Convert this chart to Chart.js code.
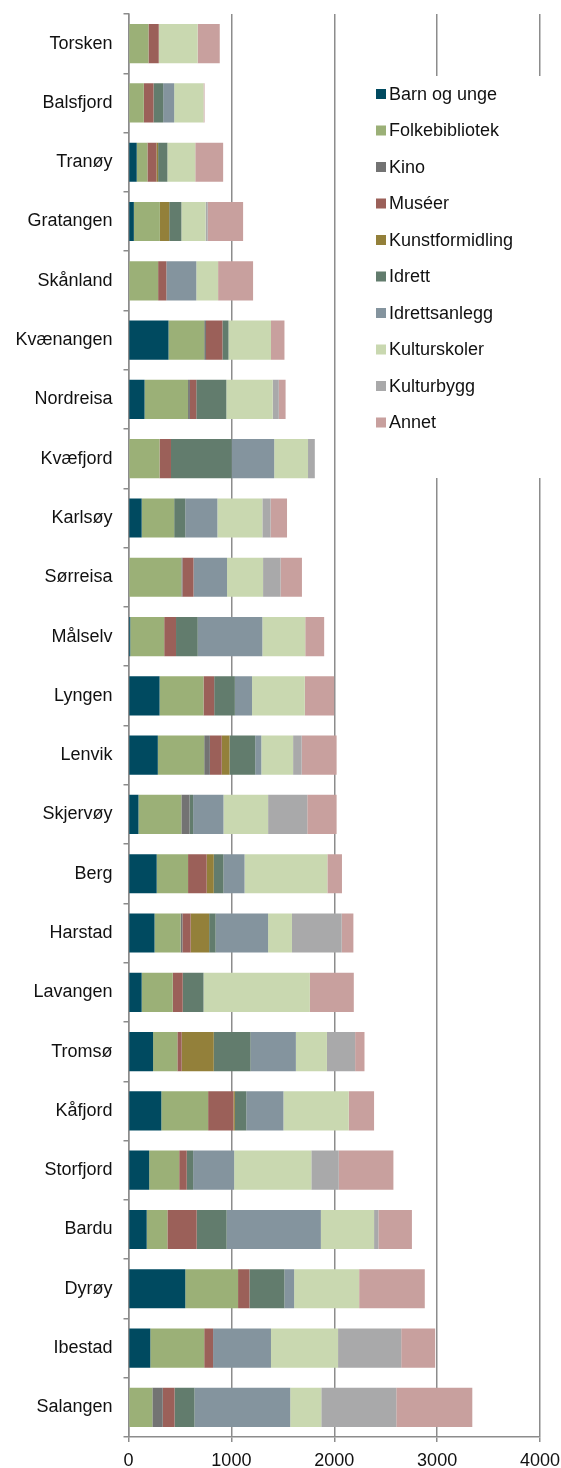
<!DOCTYPE html>
<html>
<head>
<meta charset="utf-8">
<script src="https://cdn.jsdelivr.net/npm/chart.js@4/dist/chart.umd.min.js"></script>
<style>
  html, body { margin: 0; padding: 0; background: #fff; }
  #wrap { width: 561px; height: 1468px; position: relative; }
</style>
</head>
<body>
<div id="wrap"><canvas id="grafico"></canvas></div>
<script>
// kommuner, ovenfra og ned
const kommuner = ["Torsken", "Balsfjord", "Tranøy", "Gratangen", "Skånland", "Kvænangen",
  "Nordreisa", "Kvæfjord", "Karlsøy", "Sørreisa", "Målselv", "Lyngen", "Lenvik", "Skjervøy",
  "Berg", "Harstad", "Lavangen", "Tromsø", "Kåfjord", "Storfjord", "Bardu", "Dyrøy",
  "Ibestad", "Salangen"];

const barnOgUnge      = [0, 0, 80, 52, 0, 389, 156, 0, 128, 0, 17, 302, 285, 97, 274, 253, 128, 239, 319, 201, 177, 552, 212, 0];
const folkebibliotek  = [194, 149, 104, 253, 288, 347, 423, 302, 316, 514, 330, 427, 451, 417, 305, 254, 302, 236, 455, 292, 201, 513, 524, 232];
const kino            = [0, 0, 0, 0, 0, 17, 18, 0, 0, 10, 0, 0, 55, 79, 0, 17, 0, 0, 0, 0, 0, 0, 0, 101];
const museer          = [100, 94, 87, 0, 80, 160, 62, 111, 0, 108, 115, 104, 115, 0, 181, 80, 97, 42, 246, 73, 285, 111, 86, 115];
const kunstformidling = [0, 0, 17, 91, 0, 0, 0, 0, 0, 0, 0, 0, 76, 0, 69, 180, 0, 312, 14, 0, 0, 0, 0, 0];
const idrett          = [0, 94, 90, 118, 0, 59, 292, 590, 108, 0, 211, 201, 250, 35, 94, 63, 202, 358, 111, 62, 291, 340, 0, 194];
const idrettsanlegg   = [0, 107, 0, 0, 291, 0, 0, 413, 312, 326, 628, 167, 59, 295, 205, 510, 0, 440, 361, 399, 916, 94, 563, 930];
const kulturskoler    = [378, 285, 271, 236, 212, 413, 451, 329, 437, 350, 417, 513, 309, 434, 805, 232, 1034, 302, 635, 750, 517, 632, 652, 302];
const kulturbygg      = [0, 0, 0, 20, 0, 0, 59, 66, 80, 170, 0, 0, 83, 381, 0, 483, 0, 274, 0, 267, 42, 0, 614, 729];
const annet           = [215, 10, 271, 344, 340, 131, 66, 0, 160, 208, 184, 285, 340, 285, 142, 114, 427, 91, 246, 531, 326, 638, 330, 739];

const xTicks = [0, 1000, 2000, 3000, 4000];

const serier = [
  ["Barn og unge", barnOgUnge, "#004a60"],
  ["Folkebibliotek", folkebibliotek, "#9bb077"],
  ["Kino", kino, "#737373"],
  ["Muséer", museer, "#9b6059"],
  ["Kunstformidling", kunstformidling, "#93803a"],
  ["Idrett", idrett, "#627c6d"],
  ["Idrettsanlegg", idrettsanlegg, "#84949e"],
  ["Kulturskoler", kulturskoler, "#c9d8b0"],
  ["Kulturbygg", kulturbygg, "#a9a9aa"],
  ["Annet", annet, "#c8a09e"]
];

const FONT = "'Liberation Sans', Arial, sans-serif";
const GRID = "#8c8c8c";

// egen legende med hvit bakgrunn (dekker rutenettet)
const legendePlugin = {
  id: "legende",
  afterDraw(chart) {
    const c = chart.ctx;
    c.save();
    c.fillStyle = "#fff";
    c.fillRect(345, 76, 216, 402);
    c.font = "18px " + FONT;
    c.textBaseline = "middle";
    chart.data.datasets.forEach((ds, i) => {
      const y = 94 + i * 36.5;
      c.fillStyle = ds.backgroundColor;
      c.fillRect(376, y - 5, 10, 10);
      c.fillStyle = "#111";
      c.fillText(ds.label, 389, y + 1);
    });
    c.restore();
  }
};

new Chart(document.getElementById("grafico"), {
  type: "bar",
  data: {
    labels: kommuner,
    datasets: serier.map(([navn, verdier, farge]) => ({
      label: navn,
      data: verdier,
      backgroundColor: farge,
      borderWidth: 0,
      barPercentage: 0.66,
      categoryPercentage: 1
    }))
  },
  options: {
    indexAxis: "y",
    responsive: true,
    maintainAspectRatio: false,
    animation: false,
    layout: { padding: { top: 14, right: 21, left: 0, bottom: 0 } },
    plugins: { legend: { display: false }, tooltip: { enabled: false } },
    scales: {
      x: {
        stacked: true,
        min: 0,
        max: 4000,
        afterBuildTicks: s => { s.ticks = xTicks.map(v => ({ value: v })); },
        afterFit: s => { s.height = 31; s.paddingLeft = 0; s.paddingRight = 0; },
        grid: { color: GRID, lineWidth: 1.5, tickLength: 5, tickColor: GRID },
        border: { color: GRID, width: 1.5 },
        ticks: {
          color: "#111", font: { family: FONT, size: 18 }, padding: 8, maxRotation: 0,
          callback: v => String(v)
        }
      },
      y: {
        stacked: true,
        afterFit: s => { s.width = 128.5; s.paddingTop = 0; s.paddingBottom = 0; },
        grid: { offset: true, drawOnChartArea: false, tickLength: 5, color: GRID, lineWidth: 1.5 },
        border: { color: GRID, width: 1.5 },
        ticks: { color: "#111", font: { family: FONT, size: 18 }, padding: 11, autoSkip: false }
      }
    }
  },
  plugins: [legendePlugin]
});
</script>
</body>
</html>
